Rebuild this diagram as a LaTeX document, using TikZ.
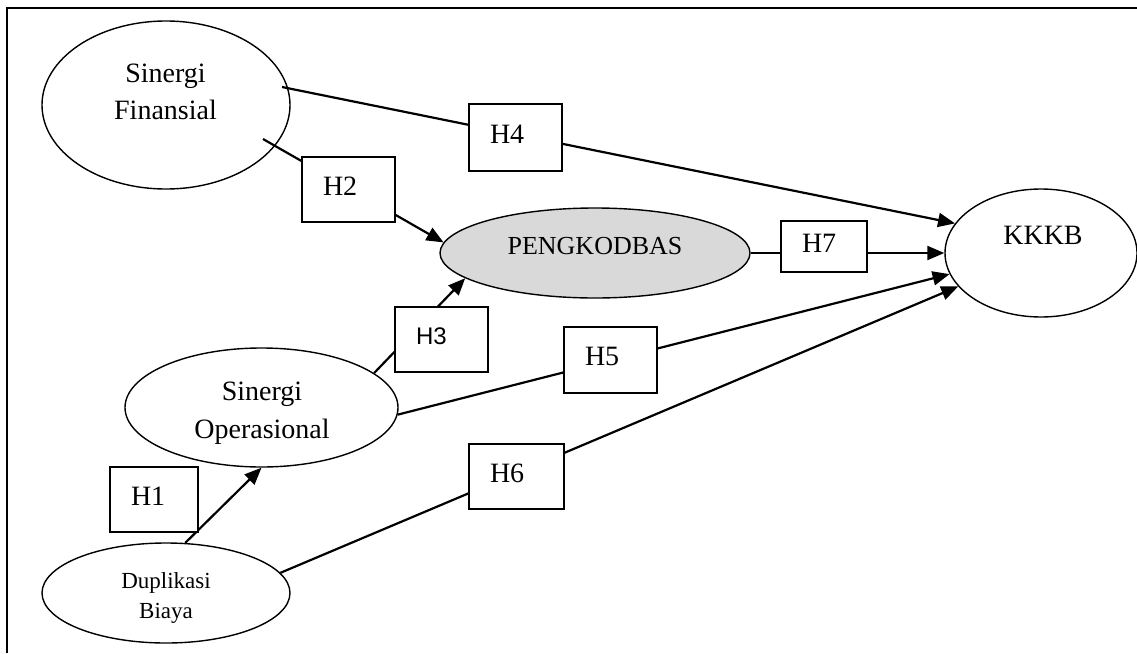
\documentclass[tikz,border=0pt]{standalone}
\usepackage{fontspec}
\setmainfont{Liberation Serif}
\newfontfamily\arialf{Liberation Sans}
\usetikzlibrary{shapes.geometric,arrows.meta}
\definecolor{pkgray}{HTML}{D9D9D9}
\begin{document}
\begin{tikzpicture}[x=1pt,y=-1pt,
  latent/.style={ellipse, draw, line width=1.4pt, inner sep=0pt},
  lbl/.style={anchor=base, align=center, inner sep=0pt},
  hyp/.style={draw, fill=white, line width=1.4pt, inner xsep=21pt, inner ysep=0pt,
    text width=#1, align=left, minimum height=65pt, text height=18.5pt, text depth=7pt,
    font=\fontsize{28}{34}\selectfont},
  conn/.style={line width=2.2pt},
  arr/.style={conn, -{Triangle[length=17pt,width=14pt]}}
]
\useasboundingbox (0,0) rectangle (1137,653);
\draw[line width=2pt] (7,653) -- (7,8) -- (1137,8);

% latent variables
\node[latent, minimum width=248pt, minimum height=168pt] (sf) at (166,105) {};
\node[latent, fill=pkgray, minimum width=310pt, minimum height=90pt] (pk) at (595,253) {};
\node[latent, minimum width=192pt, minimum height=128pt] (kkkb) at (1041,253) {};
\node[latent, minimum width=273pt, minimum height=119pt] (so) at (261.5,407.5) {};
\node[latent, minimum width=248pt, minimum height=100pt] (db) at (166,593) {};

% labels (base anchor = baseline of the last line)
\node[lbl, font=\fontsize{28}{37}\selectfont] (sft) at (165.5,119) {Sinergi\\Finansial};
\node[lbl, font=\fontsize{26}{30}\selectfont] (pkt) at (595,254) {PENGKODBAS};
\node[lbl, font=\fontsize{28}{34}\selectfont] (kkt) at (1043,244) {KKKB};
\node[lbl, font=\fontsize{28}{38}\selectfont] (sot) at (262,438) {Sinergi\\Operasional};
\node[lbl, font=\fontsize{23}{30}\selectfont] (dbt) at (166,618) {Duplikasi\\Biaya};

% free ends of connectors inside Sinergi Finansial
\coordinate (c4) at (282,87);
\coordinate (c2) at (263,139);

% connectors
\draw[arr] (c4) -- (kkkb.161);
\draw[arr] (c2) -- (pk.176);
\draw[arr] (so.17) -- (pk.191);
\draw[arr] (so.-3) -- (kkkb.193);
\draw[arr] (db.10) -- (kkkb.202);
\draw[arr] (db.69) -- (so.south);
\draw[arr] (pk.east) -- (kkkb.west);

% hypothesis boxes
\node[hyp=46pt] (h1) at (154,499.5) {H1};
\node[hyp=51pt] (h2) at (348.5,189.5) {H2};
\node[hyp=51pt, font=\arialf\fontsize{24}{28}\selectfont, text height=17.2pt] (h3) at (441.5,339.5) {H3};
\node[hyp=51pt, minimum height=67pt] (h4) at (515.5,137.5) {H4};
\node[hyp=51pt, minimum height=66pt] (h5) at (610.5,360) {H5};
\node[hyp=53pt] (h6) at (516.5,476.5) {H6};
\node[hyp=44pt, minimum height=51pt] (h7) at (824,246.5) {H7};
\end{tikzpicture}
\end{document}
